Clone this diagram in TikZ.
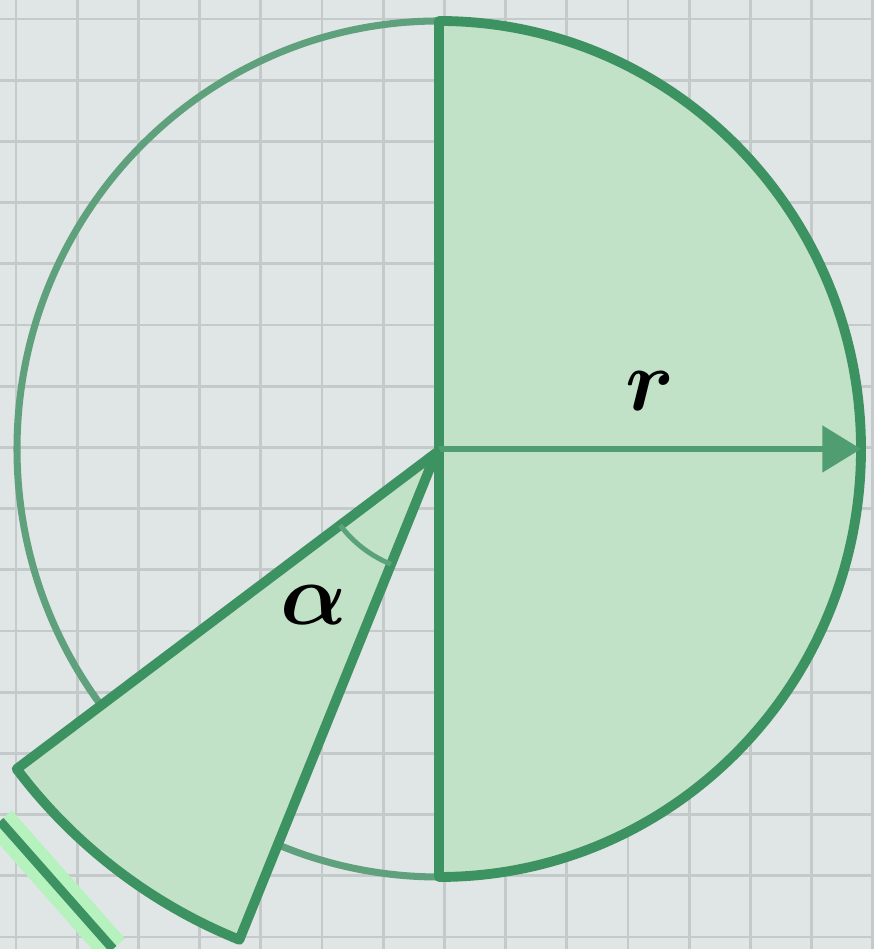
\documentclass[tikz,border=0pt]{standalone}
\usepackage{tikz}
\usetikzlibrary{arrows.meta}
\definecolor{paper}{HTML}{E0E6E5}
\definecolor{gridgray}{HTML}{C4CACA}
\definecolor{leaf}{HTML}{C2E2C7}
\definecolor{pine}{HTML}{3D9261}
\definecolor{sage}{HTML}{5FA07D}
\definecolor{glow}{HTML}{B5F2BE}

\begin{document}
\begin{tikzpicture}[x=0.01cm,y=0.01cm,
gridline/.style={draw=gridgray,line width=0.8pt},
halfdisk/.style={fill=leaf,draw=pine,line width=2.8pt,line join=round},
rim/.style={draw=sage,line width=2pt},
arr/.style={-{Triangle[length=11pt,width=13pt]},draw=pine!90,line width=1.7pt},
mathlabel/.style={font=\fontsize{30}{30}\selectfont\boldmath}]
\useasboundingbox (0,0) rectangle (873,949);
\fill[paper] (0,0) rectangle (873,949);
% grid
\foreach \k in {0,...,14} \draw[gridline] (16+61.2*\k,0) -- (16+61.2*\k,949);
\foreach \k in {0,...,15} \draw[gridline] (0,930-61.2*\k) -- (873,930-61.2*\k);
% circle
\coordinate (O) at (439,500);
\coordinate (T) at (439,928);
\coordinate (B) at (439,72);
\coordinate (R) at (861,500);
\draw[rim] (T) arc[start angle=90,end angle=270,x radius=422,y radius=428];
\draw[halfdisk] (T) arc[start angle=90,end angle=-90,x radius=422,y radius=428] -- cycle;
\draw[arr] (O) -- (R);
% cut-out sector
\coordinate (A) at (436,496);
\draw[halfdisk] (A) -- ++(217:525) arc[start angle=217,end angle=248,radius=525] -- cycle;
\draw[draw=pine!85,line width=1.4pt] (A) ++(217:120) arc[start angle=217,end angle=248,radius=120];
\node[mathlabel] (alpha) at (314,344) {$\alpha$};
\node[mathlabel] (r) at (650,558) {$r$};
% edge of the next piece
\coordinate (P) at (0,128);
\coordinate (Q) at (113,0);
\draw[glow,line width=9pt] (P) -- (Q);
\draw[pine,line width=2.6pt] (P) -- (Q);
\end{tikzpicture}
\end{document}
